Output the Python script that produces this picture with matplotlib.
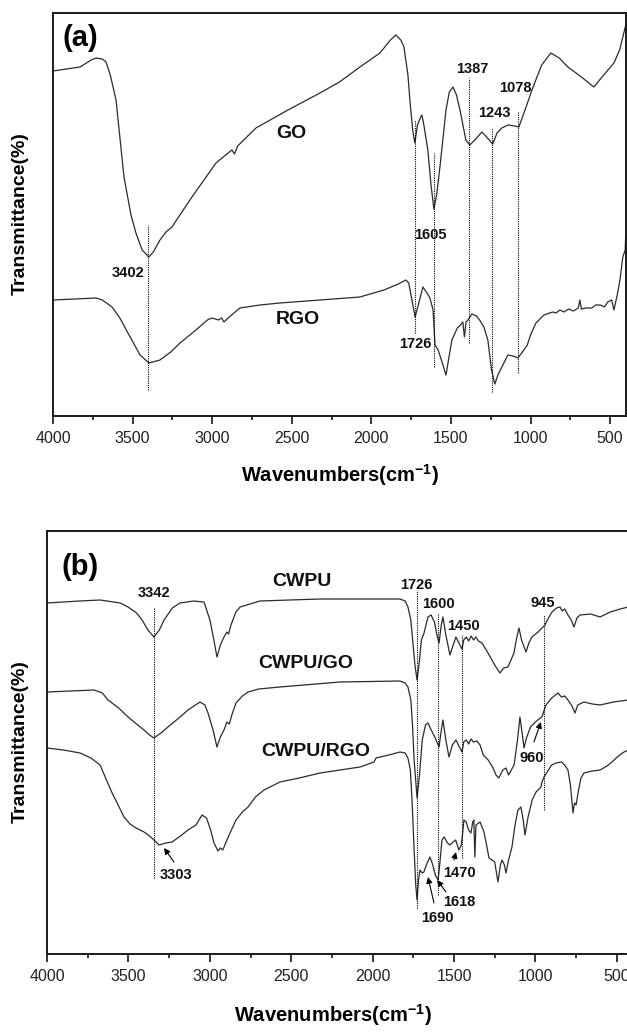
import matplotlib
matplotlib.use("Agg")
import matplotlib.pyplot as plt
import numpy as np

plt.rcParams['font.family'] = ['Liberation Sans', 'DejaVu Sans']
plt.rcParams['mathtext.fontset'] = 'custom'
plt.rcParams['mathtext.rm'] = 'Liberation Sans'
plt.rcParams['mathtext.bf'] = 'Liberation Sans:bold'

# ---- panel (a) data: wavenumber (cm-1) vs transmittance (arb. units) ----
go_wn = [4000, 3830, 3760, 3730, 3690, 3667, 3640, 3604, 3554, 3510, 3479, 3440, 3398,
         3370, 3328, 3290, 3253, 3127, 2976, 2900, 2876, 2860, 2840, 2725, 2524, 2323,
         2200, 2072, 1946, 1880, 1846, 1815, 1795, 1770, 1758, 1740, 1727, 1710, 1690,
         1682, 1670, 1645, 1625, 1607, 1590, 1569, 1531, 1510, 1487, 1465, 1443, 1406,
         1381, 1350, 1305, 1270, 1238, 1210, 1180, 1142, 1100, 1073, 1030, 991, 930,
         872, 820, 765, 680, 602, 540, 476, 440, 400]
go_t = [345, 349, 356, 358, 357, 354, 341, 316, 239, 201, 183, 166, 159,
        164, 176, 184, 189, 219, 253, 263, 266, 262, 270, 288, 306, 323,
        334, 349, 363, 376, 381, 376, 369, 341, 316, 286, 273, 291, 299,
        301, 291, 266, 231, 207, 221, 249, 306, 324, 329, 321, 306, 276,
        271, 276, 284, 278, 272, 283, 288, 291, 290, 289, 308, 326, 351,
        363, 358, 349, 339, 329, 341, 353, 366, 392]

rgo_wn = [4000, 3730, 3690, 3629, 3580, 3529, 3453, 3397, 3328, 3260, 3202, 3102, 3030,
          3001, 2960, 2940, 2926, 2900, 2826, 2700, 2575, 2323, 2072, 1921, 1830, 1783,
          1765, 1745, 1725, 1705, 1676, 1650, 1632, 1612, 1600, 1580, 1560, 1531, 1510,
          1494, 1460, 1440, 1425, 1415, 1405, 1393, 1368, 1340, 1320, 1293, 1268, 1245,
          1224, 1205, 1180, 1142, 1110, 1079, 1042, 1020, 1000, 966, 916, 880, 860, 840,
          815, 790, 760, 730, 700, 690, 680, 650, 615, 590, 560, 535, 515, 490, 476,
          455, 438, 420, 405, 400]
rgo_t = [116, 118, 116, 109, 98, 83, 61, 53, 56, 64, 73, 86, 96,
         98, 96, 98, 94, 98, 108, 111, 113, 116, 119, 126, 132, 136,
         133, 116, 99, 111, 129, 123, 118, 106, 71, 66, 56, 41, 61,
         76, 88, 91, 94, 79, 94, 96, 102, 100, 96, 89, 76, 46,
         32, 41, 49, 61, 60, 58, 66, 71, 81, 93, 101, 103, 104, 103,
         106, 104, 107, 105, 108, 116, 107, 108, 108, 111, 111, 109, 114, 116, 106,
         121, 136, 159, 166, 190]

a_lines = [3402, 1726, 1605, 1387, 1243, 1078]
a_line_top = [191, 296, 263, 338, 288, 304]
a_line_bot = [26, 83, 49, 73, 24, 43]

# ---- panel (b) data ----
cwpu_wn = [4000, 3800, 3674, 3550, 3502, 3450, 3416, 3380, 3343, 3310, 3281, 3230, 3183,
           3100, 3036, 2999, 2975, 2956, 2935, 2913, 2895, 2885, 2870, 2840, 2814, 2692,
           2323, 1832, 1800, 1783, 1765, 1758, 1740, 1727, 1715, 1700, 1684, 1660, 1641,
           1620, 1605, 1592, 1578, 1568, 1550, 1525, 1505, 1488, 1470, 1451, 1440, 1425,
           1410, 1395, 1380, 1365, 1350, 1328, 1291, 1250, 1218, 1195, 1169, 1150, 1132,
           1115, 1101, 1085, 1058, 1040, 1021, 984, 941, 920, 898, 870, 849, 835, 820,
           800, 780, 763, 745, 726, 660, 603, 540, 480, 430]
cwpu_t = [351, 353, 354, 351, 347, 341, 334, 324, 317, 324, 334, 346, 351,
          353, 352, 334, 314, 297, 309, 317, 322, 320, 329, 342, 347, 353,
          355, 355, 353, 347, 334, 321, 289, 274, 289, 314, 321, 337, 339,
          332, 319, 311, 329, 337, 319, 299, 309, 317, 311, 305, 314, 317,
          313, 318, 314, 317, 313, 311, 301, 289, 281, 286, 287, 294, 301,
          316, 326, 314, 302, 311, 317, 322, 329, 336, 342, 346, 347, 343, 345,
          339, 334, 327, 336, 339, 340, 337, 342, 345, 347]

cwpugo_wn = [4000, 3711, 3660, 3625, 3560, 3502, 3450, 3404, 3370, 3343, 3300, 3257, 3190,
             3134, 3060, 3030, 3011, 2980, 2956, 2935, 2913, 2895, 2880, 2865, 2839, 2800,
             2765, 2700, 2569, 2200, 1832, 1800, 1783, 1765, 1755, 1745, 1727, 1712, 1695,
             1675, 1660, 1640, 1615, 1592, 1578, 1568, 1550, 1531, 1510, 1488, 1470, 1451,
             1440, 1425, 1410, 1395, 1380, 1360, 1340, 1320, 1290, 1260, 1242, 1225, 1200,
             1181, 1165, 1131, 1110, 1095, 1080, 1070, 1055, 1030, 1000, 970, 960, 950,
             935, 900, 861, 840, 820, 800, 775, 757, 740, 702, 650, 603, 520, 430]
cwpugo_t = [262, 264, 261, 254, 246, 237, 230, 224, 219, 216, 221, 227, 236,
            244, 252, 249, 241, 224, 207, 217, 224, 232, 230, 239, 251, 258,
            262, 265, 267, 272, 273, 271, 267, 254, 229, 194, 156, 179, 214,
            229, 231, 224, 216, 207, 224, 234, 214, 197, 209, 214, 208, 202,
            212, 214, 210, 215, 212, 213, 209, 199, 194, 186, 179, 176, 184,
            186, 179, 189, 214, 237, 219, 206, 216, 227, 232, 236, 237, 242,
            249, 256, 261, 257, 258, 254, 248, 241, 249, 252, 250, 249, 252, 254]

cwpurgo_wn = [4000, 3900, 3797, 3730, 3674, 3640, 3600, 3560, 3527, 3490, 3453, 3404, 3370,
              3343, 3312, 3270, 3232, 3180, 3134, 3085, 3048, 3020, 2995, 2974, 2950, 2935,
              2920, 2900, 2876, 2839, 2800, 2765, 2720, 2667, 2569, 2450, 2323, 2200, 2077,
              1991, 1979, 1900, 1832, 1800, 1783, 1768, 1758, 1745, 1735, 1727, 1718, 1709,
              1695, 1685, 1670, 1648, 1630, 1615, 1598, 1585, 1574, 1560, 1540, 1525, 1505,
              1490, 1470, 1455, 1448, 1439, 1425, 1410, 1396, 1385, 1378, 1372, 1365, 1340,
              1316, 1300, 1285, 1267, 1250, 1230, 1215, 1205, 1190, 1181, 1165, 1144, 1125,
              1107, 1089, 1075, 1064, 1045, 1020, 996, 966, 960, 947, 920, 900, 873, 840,
              820, 800, 785, 769, 760, 750, 735, 720, 702, 650, 603, 560, 530, 490, 456, 430]
cwpurgo_t = [206, 204, 201, 196, 189, 176, 161, 148, 137, 130, 126, 122, 118,
             114, 109, 111, 112, 118, 124, 129, 139, 136, 124, 111, 103, 106,
             104, 112, 121, 134, 142, 147, 157, 164, 172, 176, 181, 184, 187,
             192, 196, 199, 202, 201, 196, 184, 154, 104, 69, 54, 74, 84,
             81, 82, 89, 97, 89, 79, 74, 94, 114, 117, 111, 109, 112,
             114, 104, 109, 119, 134, 132, 124, 121, 132, 134, 97, 129, 132,
             122, 109, 96, 94, 92, 72, 89, 94, 89, 81, 94, 107, 129,
             144, 147, 134, 119, 137, 154, 162, 167, 172, 177, 184, 189, 191, 192,
             189, 184, 169, 141, 151, 149, 164, 176, 181, 183, 184, 188, 192, 198, 202, 204]

b_lines = [3342, 1726, 1600, 1450, 945]
b_line_top = [346, 364, 341, 319, 339]
b_line_bot = [76, 46, 59, 96, 144]

W, H = 627, 1032
fig = plt.figure(figsize=(W / 100, H / 100), dpi=100)

curve_kw = dict(color='#2b2b2b', lw=0.9)
dot_kw = dict(color='k', lw=0.8, linestyle=(0, (1, 1)))
num_kw = dict(fontsize=10.5, fontweight='bold', ha='center', va='center', color='#111111')
lab_kw = dict(fontsize=14, fontweight='bold', ha='center', va='center', color='#111111')
arrow_kw = dict(arrowstyle='-|>', color='k', lw=0.8, mutation_scale=9, shrinkA=0, shrinkB=0)


def style_axes(ax):
    ax.set_xticks(np.arange(4000, 400, -500))
    ax.set_xticks(np.arange(3750, 400, -500), minor=True)
    ax.set_yticks([])
    ax.tick_params(axis='x', which='major', direction='out', length=5.5, width=1.1,
                   labelsize=11.5, labelcolor='#222222', pad=5)
    ax.tick_params(axis='x', which='minor', direction='out', length=3, width=1.1)
    for s in ax.spines.values():
        s.set_linewidth(1.4)
        s.set_color('#1a1a1a')


# ---------------- panel (a) ----------------
axa = fig.add_axes([53 / W, 1 - 416 / H, 573 / W, 403 / H])
axa.plot(go_wn, go_t, **curve_kw)
axa.plot(rgo_wn, rgo_t, **curve_kw)
axa.vlines(a_lines, a_line_bot, a_line_top, **dot_kw)
axa.set_xlim(4000, 400)
axa.set_ylim(0, 403)
style_axes(axa)

axa.text(3830, 378, '(a)', fontsize=21, fontweight='bold', ha='center', va='center')
axa.text(2500, 283, 'GO', **lab_kw)
axa.text(2461, 96, 'RGO', **lab_kw)
axa.text(3529, 143, '3402', **num_kw)
axa.text(1726, 72, '1726', **num_kw)
axa.text(1632, 181, '1605', **num_kw)
axa.text(1368, 347, '1387', **num_kw)
axa.text(1230, 303, '1243', **num_kw)
axa.text(1092, 328, '1078', **num_kw)

# ---------------- panel (b) ----------------
axb = fig.add_axes([47 / W, 1 - 954 / H, 581.2 / W, 423 / H])
axb.plot(cwpu_wn, cwpu_t, **curve_kw)
axb.plot(cwpugo_wn, cwpugo_t, **curve_kw)
axb.plot(cwpurgo_wn, cwpurgo_t, **curve_kw)
axb.vlines(b_lines, b_line_bot, b_line_top, **dot_kw)
axb.set_xlim(4000, 430)
axb.set_ylim(0, 423)
style_axes(axb)

axb.text(3797, 387, '(b)', fontsize=21, fontweight='bold', ha='center', va='center')
axb.text(2434, 372, 'CWPU', **lab_kw)
axb.text(2409, 291, 'CWPU/GO', **lab_kw)
axb.text(2348, 203, 'CWPU/RGO', **lab_kw)
axb.text(3343, 361, '3342', **num_kw)
axb.text(1733, 369, '1726', **num_kw)
axb.text(1598, 350, '1600', **num_kw)
axb.text(1439, 328, '1450', **num_kw)
axb.text(953, 351, '945', **num_kw)

axb.annotate('', xy=(966, 232), xytext=(1009, 212), arrowprops=arrow_kw)
axb.text(1021, 196, '960', **num_kw)
axb.annotate('', xy=(3281, 106), xytext=(3220, 92), arrowprops=arrow_kw)
axb.text(3208, 79, '3303', **num_kw)
axb.annotate('', xy=(1660, 77), xytext=(1623, 51), arrowprops=arrow_kw)
axb.text(1604, 36, '1690', **num_kw)
axb.annotate('', xy=(1604, 74), xytext=(1549, 62), arrowprops=arrow_kw)
axb.text(1469, 52, '1618', **num_kw)
axb.annotate('', xy=(1488, 102), xytext=(1500, 94), arrowprops=arrow_kw)
axb.text(1469, 81, '1470', **num_kw)

# axis titles
xlab = r'Wavenumbers(cm$^{\mathbf{-1}}$)'
fig.text(340 / W, 1 - 475 / H, xlab, fontsize=14.5, fontweight='bold', ha='center', va='center')
fig.text(333 / W, 1 - 1015 / H, xlab, fontsize=14.5, fontweight='bold', ha='center', va='center')
fig.text(20 / W, 1 - 214 / H, 'Transmittance(%)', fontsize=14, fontweight='bold',
         rotation=90, ha='center', va='center')
fig.text(20 / W, 1 - 742 / H, 'Transmittance(%)', fontsize=14, fontweight='bold',
         rotation=90, ha='center', va='center')

fig.savefig('out.png', dpi=100)
